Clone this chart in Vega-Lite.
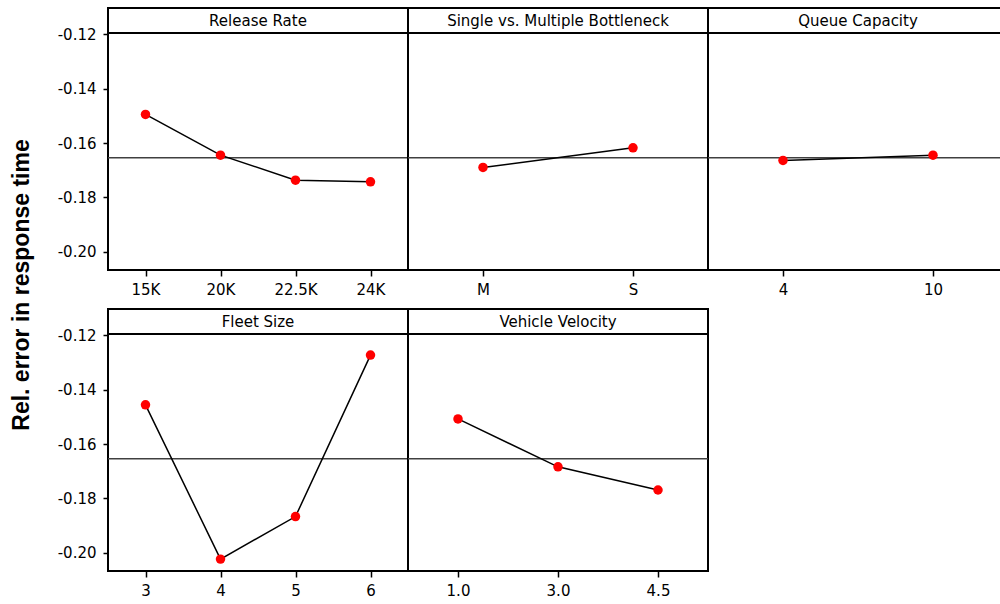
{
  "$schema": "https://vega.github.io/schema/vega-lite/v6.json",
  "background": "white",
  "padding": {"left": 11, "top": 7, "right": 0, "bottom": 0},
  "bounds": "flush",
  "title": {"text": "Rel. error in response time", "orient": "left", "anchor": "middle", "font": "Liberation Sans", "fontSize": 23, "fontWeight": "bold", "color": "black", "offset": 23, "dx": 18},
  "data": {"values": [
    {"factor": "Release Rate", "level": "15K", "ord": 1, "value": -0.14946},
    {"factor": "Release Rate", "level": "20K", "ord": 2, "value": -0.16444},
    {"factor": "Release Rate", "level": "22.5K", "ord": 3, "value": -0.17365},
    {"factor": "Release Rate", "level": "24K", "ord": 4, "value": -0.17427},
    {"factor": "Single vs. Multiple Bottleneck", "level": "M", "ord": 1, "value": -0.16897},
    {"factor": "Single vs. Multiple Bottleneck", "level": "S", "ord": 2, "value": -0.16175},
    {"factor": "Queue Capacity", "level": "4", "ord": 1, "value": -0.1664},
    {"factor": "Queue Capacity", "level": "10", "ord": 2, "value": -0.16444},
    {"factor": "Fleet Size", "level": "3", "ord": 1, "value": -0.14556},
    {"factor": "Fleet Size", "level": "4", "ord": 2, "value": -0.20233},
    {"factor": "Fleet Size", "level": "5", "ord": 3, "value": -0.18667},
    {"factor": "Fleet Size", "level": "6", "ord": 4, "value": -0.12726},
    {"factor": "Vehicle Velocity", "level": "1.0", "ord": 1, "value": -0.15074},
    {"factor": "Vehicle Velocity", "level": "3.0", "ord": 2, "value": -0.16837},
    {"factor": "Vehicle Velocity", "level": "4.5", "ord": 3, "value": -0.17689}
  ]},
  "facet": {
    "field": "factor", "type": "nominal",
    "sort": ["Release Rate", "Single vs. Multiple Bottleneck", "Queue Capacity", "Fleet Size", "Vehicle Velocity"],
    "title": null,
    "header": {"labelFont": "DejaVu Sans", "labelFontSize": 15, "labelColor": "black", "labelPadding": -33, "labelBaseline": "alphabetic"}
  },
  "columns": 3,
  "spacing": {"row": 39, "column": 0},
  "resolve": {"scale": {"x": "independent"}},
  "spec": {
    "width": 300,
    "height": 262,
    "layer": [
      {
        "transform": [{"aggregate": [{"op": "count", "as": "n"}], "groupby": ["factor"]}],
        "mark": {"type": "rule", "color": "black", "strokeWidth": 2},
        "encoding": {"y": {"datum": -0.1195, "type": "quantitative"}}
      },
      {
        "transform": [{"aggregate": [{"op": "count", "as": "n"}], "groupby": ["factor"]}],
        "mark": {"type": "rule", "color": "#404040", "strokeWidth": 1.5},
        "encoding": {"y": {"datum": -0.1654, "type": "quantitative"}}
      },
      {
        "mark": {"type": "line", "color": "black", "strokeWidth": 1.5},
        "encoding": {
          "x": {"field": "level", "type": "ordinal", "sort": {"field": "ord", "op": "min"}, "scale": {"type": "point", "padding": 0.5}},
          "y": {"field": "value", "type": "quantitative", "scale": {"domain": [-0.2067, -0.1103], "nice": false, "zero": false}, "axis": {"values": [-0.2, -0.18, -0.16, -0.14, -0.12]}}
        }
      },
      {
        "mark": {"type": "point", "filled": true, "color": "#ff0000", "size": 90, "opacity": 1},
        "encoding": {
          "x": {"field": "level", "type": "ordinal", "sort": {"field": "ord", "op": "min"}, "scale": {"type": "point", "padding": 0.5}},
          "y": {"field": "value", "type": "quantitative"}
        }
      }
    ]
  },
  "config": {
    "view": {"stroke": "black", "strokeWidth": 2},
    "axisY": {"title": null, "grid": false, "domain": false, "tickSize": 5, "tickColor": "black", "tickWidth": 1.5, "labelFont": "DejaVu Sans", "labelFontSize": 15, "labelColor": "black", "labelPadding": 7, "labelExpr": "replace(format(datum.value, '.2f'), '−', '-')"},
    "axisX": {"title": null, "grid": false, "domain": false, "tickSize": 6, "tickColor": "black", "tickWidth": 1.5, "labelFont": "DejaVu Sans", "labelFontSize": 15, "labelColor": "black", "labelPadding": 6, "labelAngle": 0}
  }
}
